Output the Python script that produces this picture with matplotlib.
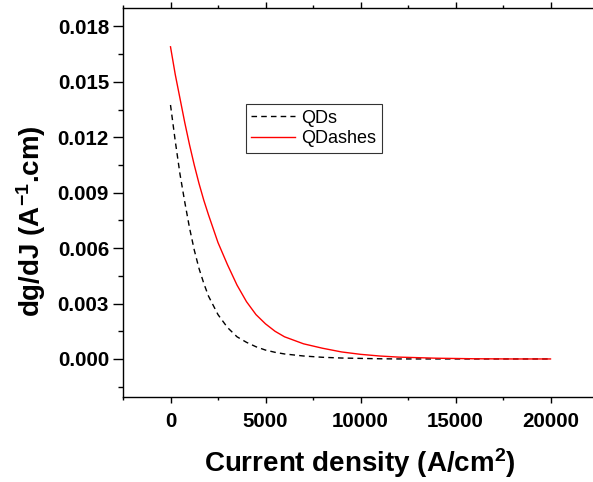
import numpy as np
import matplotlib
matplotlib.use("Agg")
import matplotlib.pyplot as plt
from matplotlib.ticker import MultipleLocator, FormatStrFormatter

plt.rcParams['font.family'] = ['Liberation Sans', 'DejaVu Sans']
plt.rcParams['mathtext.fontset'] = 'custom'
plt.rcParams['mathtext.rm'] = 'Liberation Sans:bold'
plt.rcParams['mathtext.bf'] = 'Liberation Sans:bold'
plt.rcParams['mathtext.default'] = 'bf'

# current density (A/cm^2)
J = [0, 250, 500, 750, 1000, 1250, 1500, 1750, 2000, 2500, 3000, 3500, 4000,
     4500, 5000, 5500, 6000, 7000, 8000, 9000, 10000, 11000, 12000, 14000,
     16000, 18000, 20000]
qds = [0.01375, 0.0118, 0.0100, 0.0085, 0.0071, 0.0059, 0.0049, 0.0041,
       0.0034, 0.0024, 0.0017, 0.0012, 0.00090, 0.00066, 0.00048, 0.00036,
       0.00027, 0.00016, 0.00009, 0.00005, 0.00003, 0.00001, 0.0, 0.0, 0.0,
       0.0, 0.0]
qdashes = [0.0169, 0.0154, 0.0141, 0.0128, 0.0116, 0.0105, 0.0095, 0.0086,
           0.0078, 0.0063, 0.0051, 0.0040, 0.0031, 0.0024, 0.0019, 0.00150,
           0.00120, 0.00082, 0.00058, 0.00038, 0.00025, 0.00016, 0.00010,
           0.00004, 0.00001, 0.0, 0.0]

fig = plt.figure(figsize=(5.93, 4.82), dpi=100)
W, H = 593, 482
ax = fig.add_axes([123 / W, 1 - 397 / H, 475 / W, 389 / H])

ax.plot(J, qds, color='black', linestyle=(0, (4, 3)), linewidth=1.0, label='QDs')
ax.plot(J, qdashes, color='red', linewidth=1.0, label='QDashes')

ax.set_xlim(-2500, 22500)
ax.set_ylim(-0.00206, 0.019)
ax.xaxis.set_major_locator(MultipleLocator(5000))
ax.xaxis.set_minor_locator(MultipleLocator(2500))
ax.yaxis.set_major_locator(MultipleLocator(0.003))
ax.yaxis.set_minor_locator(MultipleLocator(0.0015))
ax.yaxis.set_major_formatter(FormatStrFormatter('%.3f'))

for s in ax.spines.values():
    s.set_linewidth(1.0)
ax.tick_params(axis='y', which='major', direction='out', length=7, width=1.0, pad=3)
ax.tick_params(axis='y', which='minor', direction='out', length=3.5, width=1.0)
ax.tick_params(axis='x', which='major', direction='out', length=4, width=1.0, pad=7)
ax.tick_params(axis='x', which='minor', direction='out', length=2.5, width=1.0)
ax.tick_params(axis='x', which='both', top=True, labeltop=False)
ax.tick_params(labelsize=14.8)
for lab in ax.get_xticklabels() + ax.get_yticklabels():
    lab.set_fontweight('bold')

fig.text(360 / W, 1 - 463 / H, 'Current density (A/cm$^{2}$)', fontsize=20,
         fontweight='bold', ha='center', va='center')
fig.text(31 / W, 1 - 221 / H, 'dg/dJ (A$^{-1}$.cm)', fontsize=20,
         fontweight='bold', ha='center', va='center', rotation=90)

leg = ax.legend(loc='upper left', bbox_to_anchor=(245.7 / W, 1 - 104 / H),
                bbox_transform=fig.transFigure, fontsize=13, frameon=True,
                fancybox=False, edgecolor='black', handlelength=2.4,
                borderpad=0.32, labelspacing=0.2, handletextpad=0.35,
                borderaxespad=0)
leg.get_frame().set_linewidth(0.8)

fig.savefig('out.png', dpi=100)
